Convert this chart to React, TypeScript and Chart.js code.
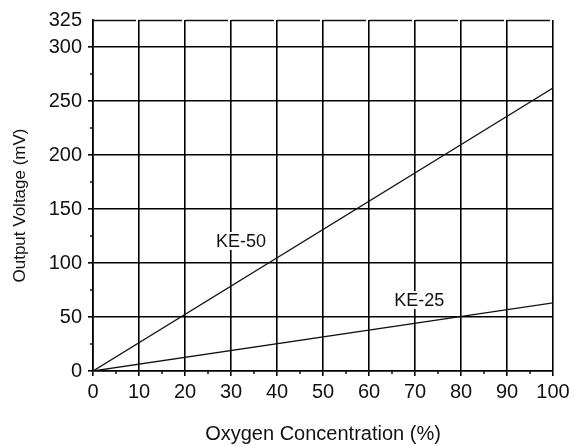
import { useEffect, useRef } from "react";
import { Chart, registerables } from "chart.js";

Chart.register(...registerables);

const oxygen = [0, 100];
const ke50 = [0, 262];
const ke25 = [0, 63];

const xTicks = [0, 10, 20, 30, 40, 50, 60, 70, 80, 90, 100];
const yTicks = [0, 50, 100, 150, 200, 250, 300, 325];
const xMinorTicks = [5, 15, 25, 35, 45, 55, 65, 75, 85, 95];
const yMinorTicks = [25, 75, 125, 175, 225, 275];

const seriesLabels = ["KE-50", "KE-25"];
const labelAnchorX = [32.2, 70.9];
const labelAnchorY = [120.4, 65.7];

const xTitle = "Oxygen Concentration (%)";
const yTitle = "Output Voltage (mV)";

const FONT = "'Liberation Sans', Arial, sans-serif";
const INK = "#111";

export default function App() {
  const ref = useRef<HTMLCanvasElement | null>(null);

  useEffect(() => {
    document.body.style.margin = "0";
    const canvas = ref.current;
    if (!canvas) return;

    const decor = {
      id: "decor",
      afterDatasetsDraw(chart: any) {
        const { ctx, scales } = chart;
        const xs = scales.x;
        const ys = scales.y;
        ctx.save();
        ctx.font = `18px ${FONT}`;
        ctx.textAlign = "center";
        ctx.textBaseline = "middle";
        seriesLabels.forEach((t, i) => {
          const px = xs.getPixelForValue(labelAnchorX[i]);
          const py = ys.getPixelForValue(labelAnchorY[i]);
          const w = ctx.measureText(t).width + 6;
          ctx.fillStyle = "#fff";
          ctx.fillRect(px - w / 2, py - 9, w, 18);
          ctx.fillStyle = INK;
          ctx.fillText(t, px, py + 1);
        });
        ctx.restore();
      },
      afterDraw(chart: any) {
        const { ctx, scales, chartArea } = chart;
        const xs = scales.x;
        const ys = scales.y;
        ctx.save();
        ctx.strokeStyle = INK;
        ctx.lineWidth = 1.5;
        ctx.beginPath();
        xMinorTicks.forEach((v) => {
          const px = xs.getPixelForValue(v);
          ctx.moveTo(px, chartArea.bottom);
          ctx.lineTo(px, chartArea.bottom + 3);
        });
        yMinorTicks.forEach((v) => {
          const py = ys.getPixelForValue(v);
          ctx.moveTo(chartArea.left, py);
          ctx.lineTo(chartArea.left - 3, py);
        });
        ctx.stroke();
        const topY = Math.round(ys.getPixelForValue(325)) + 0.5;
        ctx.setLineDash([43, 3]);
        ctx.beginPath();
        ctx.moveTo(chartArea.left, topY);
        ctx.lineTo(chartArea.right, topY);
        ctx.stroke();
        ctx.setLineDash([]);
        ctx.fillStyle = INK;
        ctx.font = `17px ${FONT}`;
        ctx.textAlign = "center";
        ctx.textBaseline = "middle";
        ctx.translate(20.5, (chartArea.top + chartArea.bottom) / 2 + 10);
        ctx.rotate(-Math.PI / 2);
        ctx.fillText(yTitle, 0, 0);
        ctx.restore();
      },
    };

    const chart = new Chart(canvas, {
      type: "scatter",
      data: {
        datasets: [
          {
            label: seriesLabels[0],
            data: oxygen.map((x, i) => ({ x, y: ke50[i] })),
            showLine: true,
            borderColor: INK,
            borderWidth: 1.3,
            pointRadius: 0,
          },
          {
            label: seriesLabels[1],
            data: oxygen.map((x, i) => ({ x, y: ke25[i] })),
            showLine: true,
            borderColor: INK,
            borderWidth: 1.3,
            pointRadius: 0,
          },
        ],
      },
      options: {
        animation: false,
        responsive: false,
        devicePixelRatio: 1,
        layout: { padding: { top: 20, right: 22, left: 0, bottom: 0 } },
        plugins: {
          legend: { display: false },
          tooltip: { enabled: false },
        },
        scales: {
          x: {
            type: "linear",
            min: 0,
            max: 100,
            afterBuildTicks: (s: any) => {
              s.ticks = xTicks.map((v) => ({ value: v }));
            },
            afterFit: (s: any) => {
              s.height = 74;
            },
            grid: {
              color: "#000",
              lineWidth: 1.6,
              tickLength: 5,
              tickColor: "#000",
            },
            border: { display: true, color: "#000", width: 1.6 },
            ticks: {
              autoSkip: false,
              maxRotation: 0,
              padding: 4,
              color: INK,
              font: { family: FONT, size: 20 },
            },
            title: {
              display: true,
              text: xTitle,
              color: INK,
              font: { family: FONT, size: 20, lineHeight: 1 },
              padding: { top: 0, bottom: 1 },
            },
          },
          y: {
            type: "linear",
            min: 0,
            max: 325,
            afterBuildTicks: (s: any) => {
              s.ticks = yTicks.map((v) => ({ value: v }));
            },
            afterFit: (s: any) => {
              s.width = 93;
            },
            grid: {
              color: (c: any) => (c.tick && c.tick.value === 325 ? "rgba(0,0,0,0)" : "#000"),
              tickColor: (c: any) => (c.tick && c.tick.value === 325 ? "rgba(0,0,0,0)" : "#000"),
              lineWidth: 1.6,
              tickLength: 5,
            },
            border: { display: true, color: "#000", width: 1.6 },
            ticks: {
              autoSkip: false,
              padding: 6,
              color: INK,
              font: { family: FONT, size: 20 },
            },
          },
        },
      },
      plugins: [decor],
    } as any);

    return () => chart.destroy();
  }, []);

  return <canvas ref={ref} width={575} height={445} />;
}
